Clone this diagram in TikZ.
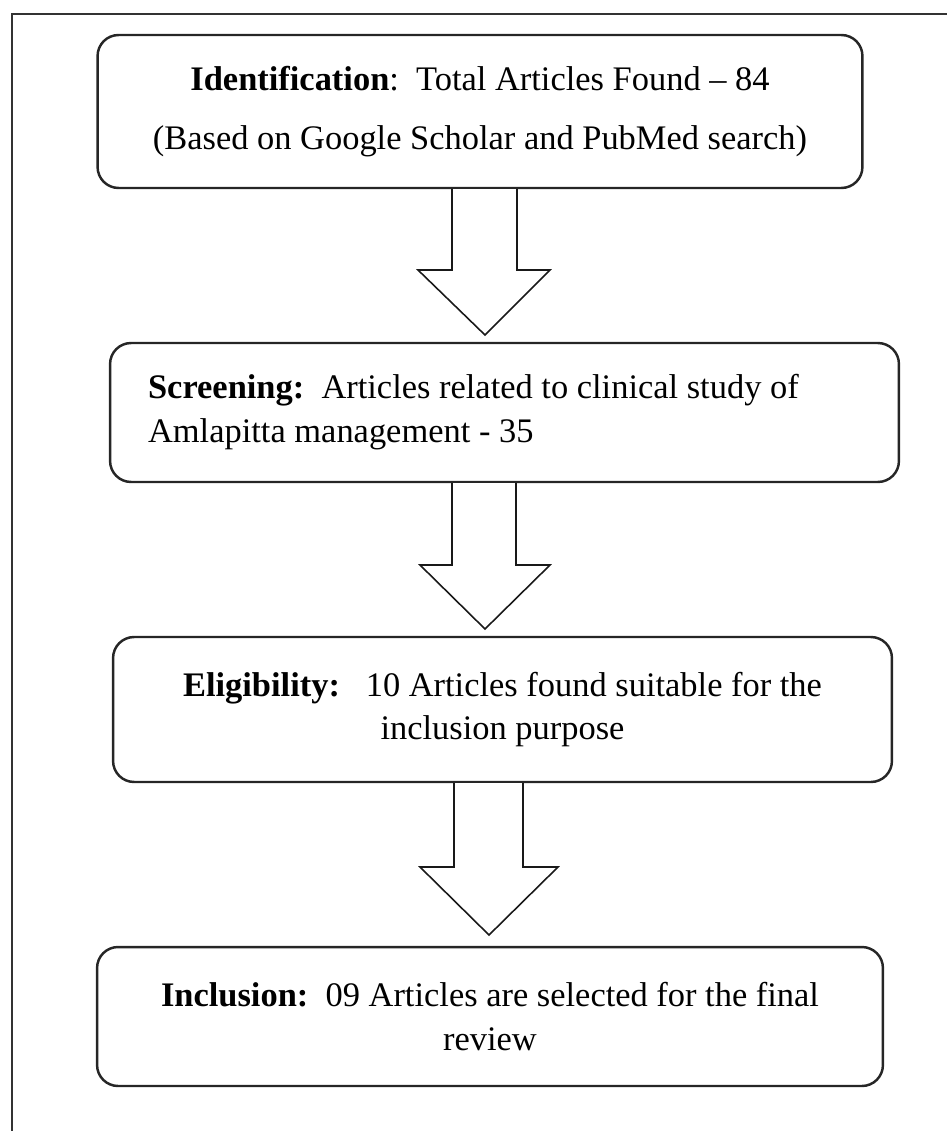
\documentclass[tikz,border=0pt]{standalone}
\usepackage{fontspec}
\setmainfont{Liberation Serif}
\usepackage{tikz}

\begin{document}
\begin{tikzpicture}[x=0.02cm,y=-0.02cm]
\tikzstyle{stage}=[draw=black!85,line width=1.4pt,rounded corners=0.42cm,inner sep=0pt,
	font=\fontsize{19.6}{25}\selectfont];
\tikzstyle{blockarrow}=[draw=black!90,line width=0.9pt,fill=white,line join=miter];
\useasboundingbox (0,0) rectangle (947,1131);
\draw[black!80,line width=1.3pt] (12,1131) -- (12,14) -- (947,14);
\node[stage,minimum width=15.3cm,minimum height=3.06cm,align=center] (idf)at(480,111.5)
	{\textbf{Identification}:\ \ Total Articles Found -- 84\\[0.3cm]
	(Based on Google Scholar and PubMed search)};
\node[stage,minimum width=15.78cm,minimum height=2.78cm,text width=14.26cm,align=flush left] (scr)at(504.5,412.5)
	{\textbf{Screening:}\ \ Articles related to clinical study of\\
	Amlapitta management - 35};
\node[stage,minimum width=15.58cm,minimum height=2.9cm,align=center] (elg)at(502.5,709.5)
	{\textbf{Eligibility:}\ \ \ 10 Articles found suitable for the\\
	inclusion purpose};
\node[stage,minimum width=15.72cm,minimum height=2.78cm,align=center] (inc)at(490,1016.5)
	{\textbf{Inclusion:}\ \ 09 Articles are selected for the final\\
	review};
\draw[blockarrow] (452,0 |- idf.south) -- (452,270) -- (418,270) -- (485,335)
	-- (550,270) -- (517,270) -- (517,0 |- idf.south);
\draw[blockarrow] (452,0 |- scr.south) -- (452,565) -- (420,565) -- (485,629)
	-- (550,565) -- (516,565) -- (516,0 |- scr.south);
\draw[blockarrow] (454,0 |- elg.south) -- (454,867) -- (420,867) -- (489,935)
	-- (558,867) -- (523,867) -- (523,0 |- elg.south);
\end{tikzpicture}
\end{document}
